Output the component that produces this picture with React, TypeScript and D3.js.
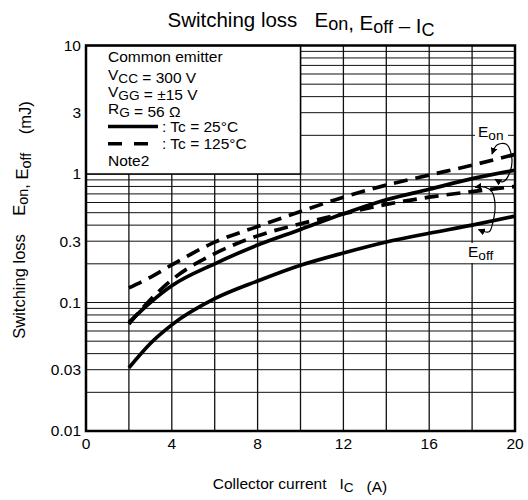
import * as d3 from 'd3';

// collector current (A) and switching loss (mJ)
const currentA = [2, 3, 4, 6, 8, 10, 12, 14, 16, 18, 20];
const eon25 = [0.07, 0.1, 0.135, 0.2, 0.28, 0.37, 0.49, 0.63, 0.76, 0.92, 1.07];
const eon125 = [0.13, 0.157, 0.196, 0.295, 0.39, 0.51, 0.66, 0.82, 0.98, 1.17, 1.42];
const eoff25 = [0.031, 0.048, 0.067, 0.107, 0.147, 0.195, 0.243, 0.296, 0.346, 0.4, 0.47];
const eoff125 = [0.068, 0.105, 0.15, 0.24, 0.33, 0.41, 0.49, 0.58, 0.66, 0.73, 0.8];

const xTicks = [0, 4, 8, 12, 16, 20];
const yTicks = [0.01, 0.03, 0.1, 0.3, 1, 3, 10];
const yTickText = ['0.01', '0.03', '0.1', '0.3', '1', '3', '10'];

// annotation loops, in data units
const eonLoop: [number, number][] = [[18.93, 1.43], [19.16, 1.68], [19.58, 1.71], [19.84, 1.38], [19.77, 1.04], [19.44, 0.87], [19.07, 0.91]];
const eoffLoop: [number, number][] = [[18.3, 0.37], [18.79, 0.355], [18.97, 0.423], [19.07, 0.574], [18.93, 0.724], [18.6, 0.79], [18.14, 0.79]];

const W = 528, H = 500;
const font = '"Liberation Sans", Arial, sans-serif';

const x = d3.scaleLinear().domain([0, 20]).range([86, 515]);
const y = d3.scaleLog().domain([0.01, 10]).range([431, 45.5]);

const curve = d3.line<number>().x((_, i) => x(currentA[i])).y((d) => y(d)).curve(d3.curveMonotoneX);
const loop = d3.line<[number, number]>().x((d) => x(d[0])).y((d) => y(d[1])).curve(d3.curveCatmullRom);

function Sub({ t, s }: { t: string; s: string }) {
  return (
    <>
      <tspan>{t}</tspan>
      <tspan dy={3} fontSize="0.88em">{s}</tspan>
      <tspan dy={-3}></tspan>
    </>
  );
}

export default function App() {
  const [x0, x1] = x.range();
  const [y0, y1] = y.range();
  const lx = 108;
  const rows = [62.3, 79.6, 96.9, 114.2, 131.5, 148.8, 166];
  return (
    <svg width={W} height={H} style={{ position: 'absolute', left: 0, top: 0, background: '#fff' }} fontFamily={font}>
      <defs>
        <marker id="ah" viewBox="0 0 10 10" refX="9" refY="5" markerWidth="7" markerHeight="7" orient="auto-start-reverse" markerUnits="userSpaceOnUse">
          <path d="M0,0 L10,5 L0,10 Z" fill="#000" />
        </marker>
      </defs>
      <text x={301} y={27} textAnchor="middle" fontSize={20.5} style={{ whiteSpace: 'pre' }}>
        {'Switching loss   '}
        <Sub t="E" s="on" />
        {', '}
        <Sub t="E" s="off" />
        {' – '}
        <Sub t="I" s="C" />
      </text>

      {/* grid */}
      <g stroke="#111" strokeWidth={1}>
        {y.ticks().map((v) => (
          <line key={'h' + v} x1={x0} x2={x1} y1={y(v)} y2={y(v)} />
        ))}
        {x.ticks(10).map((v) => (
          <line key={'v' + v} x1={x(v)} x2={x(v)} y1={y1} y2={y0} strokeWidth={1.3} />
        ))}
      </g>

      {/* legend */}
      <rect x={x(0)} y={y(10)} width={x(10) - x(0)} height={y(1) - y(10)} fill="#fff" stroke="#000" strokeWidth={1.5} />
      <g fontSize={15.5}>
        <text x={lx} y={rows[0]}>Common emitter</text>
        <text x={lx} y={rows[1]}><Sub t="V" s="CC" />{' = 300 V'}</text>
        <text x={lx} y={rows[2]}><Sub t="V" s="GG" />{' = ±15 V'}</text>
        <text x={lx} y={rows[3]}><Sub t="R" s="G" />{' = 56 Ω'}</text>
        <line x1={lx} x2={158} y1={rows[4] - 5} y2={rows[4] - 5} stroke="#000" strokeWidth={3.5} />
        <text x={162} y={rows[4]}>: Tc = 25°C</text>
        <line x1={lx} x2={154} y1={rows[5] - 5} y2={rows[5] - 5} stroke="#000" strokeWidth={3.5} strokeDasharray="14,12" />
        <text x={162} y={rows[5]}>: Tc = 125°C</text>
        <text x={lx} y={rows[6]}>Note2</text>
      </g>

      {/* curves */}
      <g fill="none" stroke="#000" strokeWidth={3.7}>
        <path d={curve(eoff25) ?? ''} />
        <path d={curve(eon25) ?? ''} />
        <path d={curve(eoff125) ?? ''} strokeDasharray="14,8" />
        <path d={curve(eon125) ?? ''} strokeDasharray="14,8" />
      </g>

      {/* annotations */}
      <rect x={475} y={123} width={33} height={17} fill="#fff" />
      <text x={478} y={137} fontSize={15.5}><Sub t="E" s="on" /></text>
      <rect x={466} y={243} width={32} height={20} fill="#fff" />
      <text x={468} y={257} fontSize={15.5}><Sub t="E" s="off" /></text>
      <g fill="none" stroke="#000" strokeWidth={1.2}>
        <path d={loop(eonLoop) ?? ''} markerStart="url(#ah)" markerEnd="url(#ah)" />
        <path d={loop(eoffLoop) ?? ''} markerStart="url(#ah)" markerEnd="url(#ah)" />
      </g>

      {/* frame */}
      <rect x={x0} y={y1} width={x1 - x0} height={y0 - y1} fill="none" stroke="#000" strokeWidth={2.5} />

      {/* ticks */}
      <g fontSize={15.5}>
        {yTicks.map((v, i) => (
          <text key={v} x={81} y={y(v)} dy="0.35em" textAnchor="end">{yTickText[i]}</text>
        ))}
        {xTicks.map((v) => (
          <text key={v} x={x(v)} y={449} textAnchor="middle">{v}</text>
        ))}
      </g>

      <text x={300} y={489} textAnchor="middle" fontSize={15.5} style={{ whiteSpace: 'pre' }}>
        {'Collector current   '}
        <Sub t="I" s="C" />
        {'   (A)'}
      </text>
      <text transform="translate(25,220) rotate(-90)" textAnchor="middle" fontSize={16.5} style={{ whiteSpace: 'pre' }}>
        {'Switching loss    '}
        <Sub t="E" s="on" />
        {', '}
        <Sub t="E" s="off" />
        {'    (mJ)'}
      </text>
    </svg>
  );
}
